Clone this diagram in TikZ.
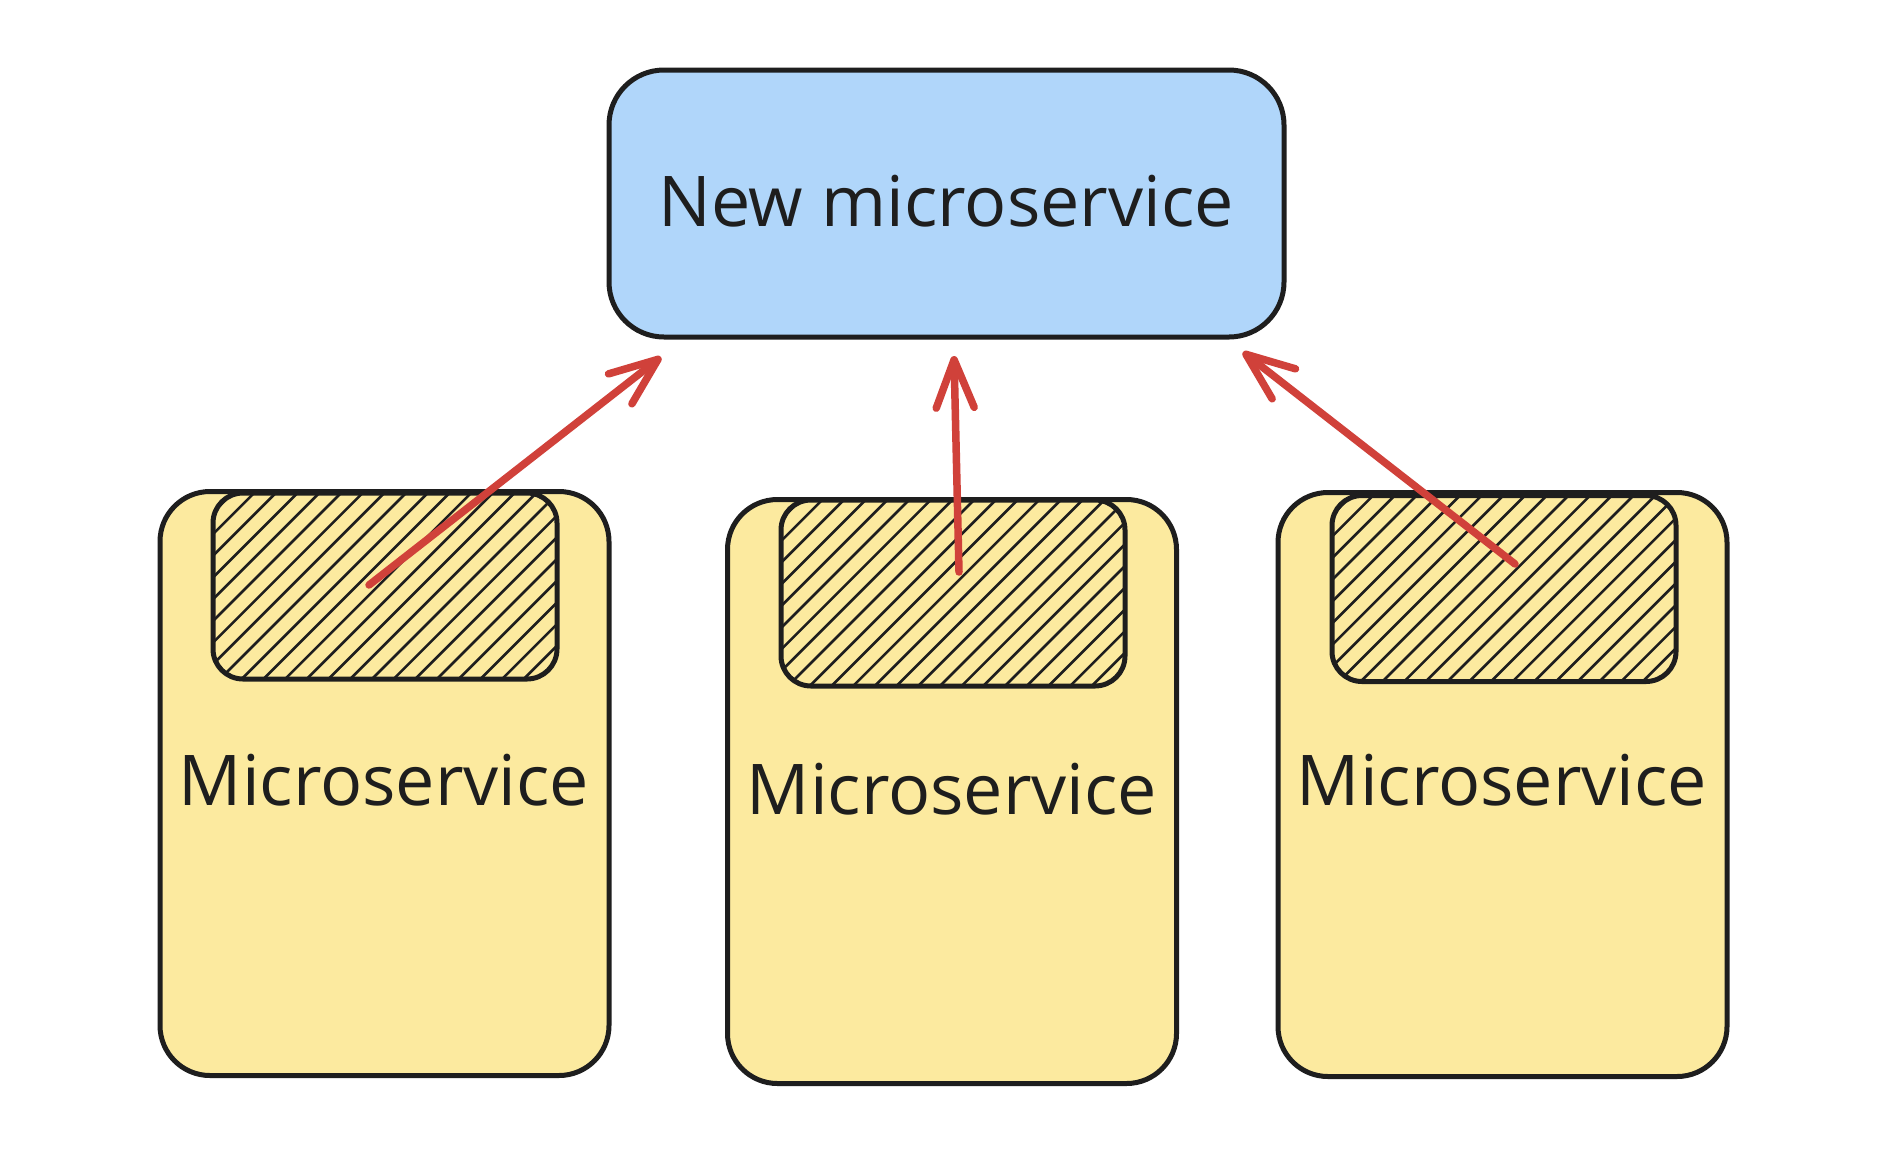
\documentclass[tikz,border=0pt]{standalone}
\usepackage{fontspec}
\setmainfont{Open Sans}
\usetikzlibrary{arrows.meta,calc}
\definecolor{inkc}{HTML}{1E1E1E}
\definecolor{bluec}{HTML}{B0D6FA}
\definecolor{yellowc}{HTML}{FCEA9F}
\definecolor{redc}{HTML}{D0413A}
\tikzset{
  topbox/.style={draw=inkc, fill=bluec, line width=5pt, rounded corners=55pt, minimum width=675pt, minimum height=267pt, inner sep=0pt},
  outerbox/.style={draw=inkc, fill=yellowc, line width=5pt, rounded corners=50pt, minimum width=449pt, minimum height=584pt, inner sep=0pt},
  innerbox/.style={draw=inkc, fill=yellowc, line width=5pt, rounded corners=30pt, minimum width=344pt, minimum height=186pt, inner sep=0pt,
    path picture={
      \foreach \d in {-220,-198.3,...,380}{
        \draw[inkc, line width=2.6pt] ($(path picture bounding box.south west)+(\d,10)$) -- ++(420,-420);
      }
    }},
  lbl/.style={text=inkc, font=\fontsize{70}{80}\selectfont, anchor=base, inner sep=0pt},
  arr/.style={draw=redc, line width=7.5pt, line cap=round, -{Straight Barb[length=48pt,width=38pt,round]}},
}
\begin{document}
\begin{tikzpicture}[x=1pt,y=-1pt]
\useasboundingbox (0,0) rectangle (1884,1168);
\fill[white] (0,0) rectangle (1884,1168);
% top box
\node[topbox] (top) at (946.5,203.5) {};
\node[lbl] (toplbl) at (946,226) {New microservice};
% service boxes
\node[outerbox] (b1) at (384.5,783.5) {};
\node[outerbox] (b2) at (952,791.5) {};
\node[outerbox] (b3) at (1502.5,784.5) {};
\node[innerbox] (i1) at (385,586) {};
\node[innerbox] (i2) at (953,593) {};
\node[innerbox] (i3) at (1504,588.5) {};
\node[lbl] (l1) at (384,805) {Microservice};
\node[lbl] (l2) at (952,814) {Microservice};
\node[lbl] (l3) at (1502,805) {Microservice};
% arrow ends
\coordinate (t1) at (369,585);
\coordinate (h1) at (661,357);
\coordinate (t2) at (959,572);
\coordinate (h2) at (954,356);
\coordinate (t3) at (1515,564);
\coordinate (h3) at (1243,352);
\draw[arr] (t1) -- (h1);
\draw[arr] (t2) -- (h2);
\draw[arr] (t3) -- (h3);
\end{tikzpicture}
\end{document}
